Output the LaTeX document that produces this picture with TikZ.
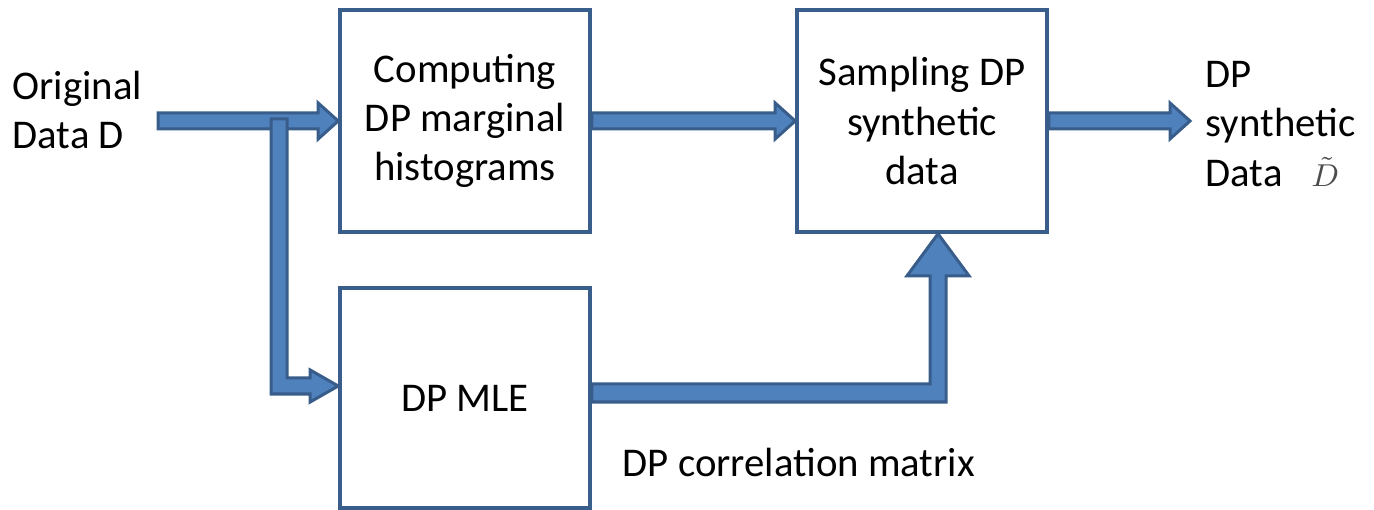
\documentclass[tikz,border=0pt]{standalone}
\usepackage{fontspec}
\setmainfont{Carlito}
\usetikzlibrary{calc,positioning}
\definecolor{arrowfill}{HTML}{4F81BD}
\definecolor{arrowline}{HTML}{385D8A}
\definecolor{boxline}{HTML}{3A5E8C}

\begin{document}
\begin{tikzpicture}[x=0.01cm,y=-0.01cm,
    every node/.style={font=\fontsize{11.6}{14}\selectfont},
    stage/.style={draw=boxline,line width=0.035cm,minimum width=2.5cm,minimum height=2.22cm,align=center,inner sep=0pt},
    blockarrow/.style={fill=arrowfill,draw=arrowline,line width=0.03cm,line join=miter},
    txt/.style={align=left,anchor=west,inner sep=0pt}]
            \useasboundingbox (0,0) rectangle (1374,510);
            % stages
            \node[stage] (comp) at (465,121) {Computing\\DP marginal\\histograms};
            \node[stage] (samp) at (922,121) {Sampling DP\\synthetic\\data};
            \node[stage,minimum height=2.2cm] (mle) at (465,398) {DP MLE};
            % texts
            \node[txt] (orig) at (12,110) {Original\\Data D};
            \node[txt] (dout) at (1205,124) {DP\\synthetic\\Data\hspace{0.7em}{\fontsize{9}{14}\selectfont\color{black!70}$\tilde{D}$}};
            \node[txt] (corr) at (622,462) {DP correlation matrix};
            % arrow ends
            \coordinate (in) at (158,121);
            \coordinate (outtip) at (1190,121);
            \coordinate (br) at (279,119);
            \coordinate (mletip) at ($(mle.west)+(0,-12)$);
            \coordinate (mleout) at ($(mle.east)+(0,-5)$);
            \coordinate (samptip) at ($(samp.south)+(16,0)$);
            % straight arrows
            \foreach \a/\b in {in/comp.west,comp.east/samp.west,samp.east/outtip}
              {
                \draw[blockarrow] ($(\a)+(0,-8)$) -- ($(\b)+(-20,-8)$) -- ($(\b)+(-20,-18)$) -- (\b)
                  -- ($(\b)+(-20,18)$) -- ($(\b)+(-20,8)$) -- ($(\a)+(0,8)$) -- cycle;
              }
            % branch down to the MLE
            \draw[blockarrow] ($(br)+(-8,0)$) -- ($(br)+(8,0)$) -- ($(br|-mletip)+(8,-8)$)
              -- ($(mletip)+(-28,-8)$) -- ($(mletip)+(-28,-16)$) -- (mletip) -- ($(mletip)+(-28,16)$)
              -- ($(mletip)+(-28,8)$) -- ($(br|-mletip)+(-8,8)$) -- cycle;
            % correlation matrix up to the sampler
            \draw[blockarrow] ($(mleout)+(0,-9)$) -- ($(samptip|-mleout)+(-8,-9)$) -- ($(samptip)+(-8,42)$)
              -- ($(samptip)+(-31,42)$) -- (samptip) -- ($(samptip)+(31,42)$) -- ($(samptip)+(8,42)$)
              -- ($(samptip|-mleout)+(8,9)$) -- ($(mleout)+(0,9)$) -- cycle;
          \end{tikzpicture}
\end{document}
